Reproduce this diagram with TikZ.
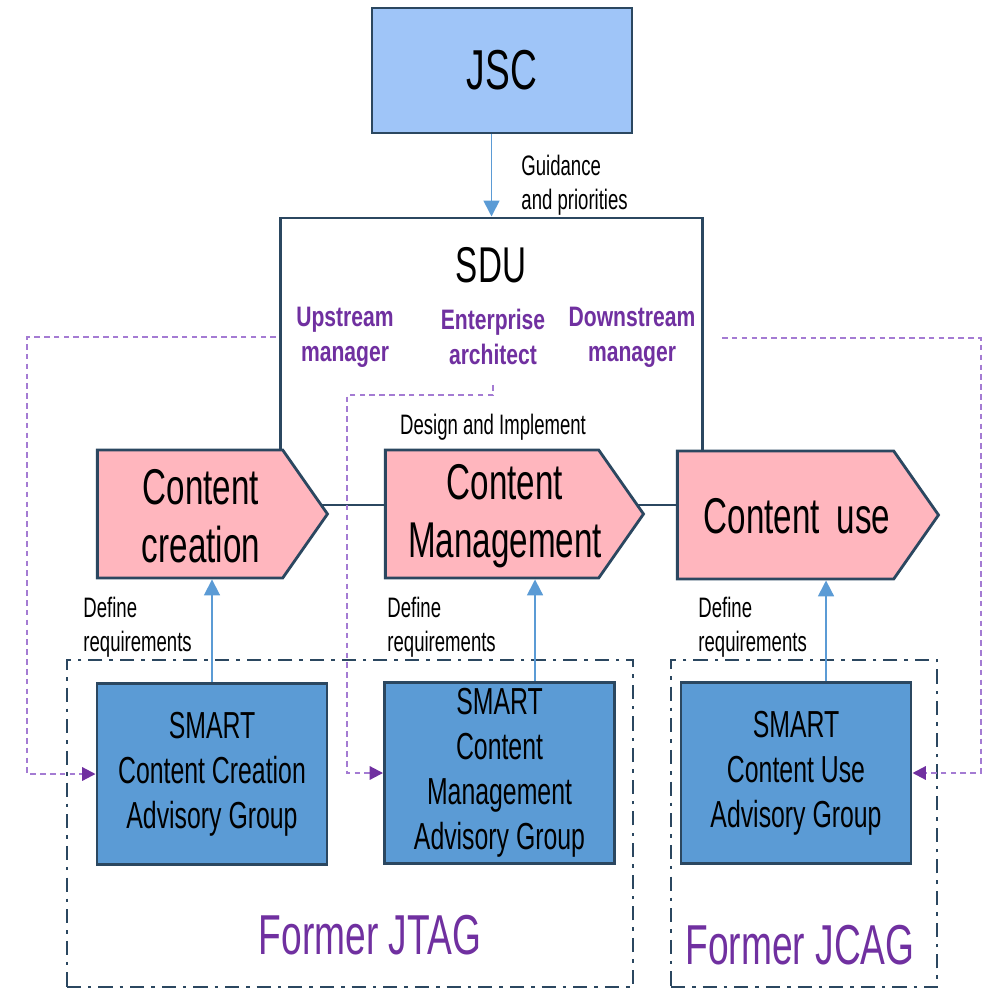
\documentclass[tikz,border=0pt]{standalone}
\usepackage{fontspec}
\setmainfont{Liberation Sans}[FakeStretch=0.66,BoldFeatures={FakeStretch=0.75}]
\usepackage{tikz}
\usetikzlibrary{shapes,arrows,arrows.meta,positioning}

\definecolor{edgeblue}{HTML}{2B4760}
\definecolor{jscblue}{HTML}{9FC5F8}
\definecolor{smartblue}{HTML}{5B9BD5}
\definecolor{arrowblue}{HTML}{5B9BD5}
\definecolor{chevpink}{HTML}{FFB6BE}
\definecolor{rolepurple}{HTML}{7030A0}
\definecolor{linkpurple}{HTML}{A47BD3}

\begin{document}
\begin{tikzpicture}[x=0.01cm,y=-0.01cm,
  topbox/.style={draw=edgeblue,line width=0.8pt,fill=jscblue,minimum width=2.6cm,minimum height=1.25cm,font=\fontsize{16pt}{19pt}\selectfont},
  sdubox/.style={draw=edgeblue,line width=0.8pt,fill=white,minimum width=4.21cm,minimum height=2.87cm},
  chev/.style={shape=signal,signal to=east,signal pointer angle=110,draw=edgeblue,line width=0.8pt,fill=chevpink,minimum height=1.28cm,inner sep=0pt},
  chevtext/.style={align=center,font=\fontsize{14.3pt}{16.5pt}\selectfont},
  smartbox/.style={draw=edgeblue,line width=0.8pt,fill=smartblue,minimum width=2.3cm,minimum height=1.81cm,align=center,font=\fontsize{10.7pt}{12.8pt}\selectfont},
  groupbox/.style={draw=edgeblue,line width=0.7pt,dash pattern=on 4pt off 2pt on 1pt off 2pt},
  role/.style={text=rolepurple,font=\bfseries\fontsize{8pt}{10pt}\selectfont,align=center},
  note/.style={font=\fontsize{8pt}{9.8pt}\selectfont,align=left},
  former/.style={text=rolepurple,font=\fontsize{16pt}{19pt}\selectfont},
  uparrow/.style={draw=arrowblue,line width=0.5pt,-{Triangle[length=4.5pt,width=4.5pt]}},
  link/.style={draw=linkpurple,line width=0.6pt,dash pattern=on 1.6pt off 1.2pt,-{Triangle[length=3.8pt,width=3.8pt,color=rolepurple]}}
]
\useasboundingbox (0,0) rectangle (987,989);

\node[sdubox] (sdu) at (491.5,361.5) {};
\node[topbox] (jsc) at (502,70.5) {JSC};
\node[font=\fontsize{14.3pt}{17pt}\selectfont] (sdutext) at (491,265) {SDU};

\node[role] (ups) at (345,337) {Upstream\\manager};
\node[role] (ent) at (493,337) {Enterprise\\architect};
\node[role] (dns) at (632,337) {Downstream\\manager};
\node[note] (design) at (493,427) {Design and Implement};
\node[note,anchor=west] (guide) at (509,185) {Guidance\\and priorities};

\node[groupbox,minimum width=5.66cm,minimum height=3.27cm] (jtag) at (350,823.5) {};
\node[groupbox,minimum width=2.66cm,minimum height=3.27cm] (jcag) at (804,823.5) {};

\node[chev,minimum width=2.3cm] (cc) at (190,514) {};
\node[chev,minimum width=2.58cm] (cm) at (492,514) {};
\node[chev,minimum width=2.61cm] (cu) at (785.5,515) {};
\node[chevtext] (cctext) at (201,516) {Content\\creation};
\node[chevtext] (cmtext) at (505,516) {Content\\Management};
\node[chevtext] (cutext) at (797,516) {Content\hspace{0.15em} use};

\node[smartbox] (sca) at (212,774) {SMART\\Content Creation\\Advisory Group};
\node[smartbox,inner ysep=1pt] (smg) at (499.5,773) {SMART\\Content\\Management\\Advisory Group};
\node[smartbox] (scu) at (796,773) {SMART\\Content Use\\Advisory Group};

\node[note,anchor=west] (def1) at (71,627) {Define\\requirements};
\node[note,anchor=west] (def2) at (375,627) {Define\\requirements};
\node[note,anchor=west] (def3) at (686,627) {Define\\requirements};

\node[former] (fjtag) at (370,935) {Former JTAG};
\node[former] (fjcag) at (800,945) {Former JCAG};

\draw[uparrow] (sdu.north |- jsc.south) -- (sdu.north);
\draw[uparrow] (sca.north) -- (sca.north |- cc.south);
\coordinate (up2) at ([xshift=0.355cm]smg.north);
\draw[uparrow] (up2) -- (up2 |- cm.south);
\coordinate (up3) at ([xshift=0.3cm]scu.north);
\draw[uparrow] (up3) -- (up3 |- cu.south);

\coordinate (upsl) at (276,337);
\coordinate (entb) at (493,385);
\coordinate (dnsr) at (722,338);
\draw[link] (upsl) -- (27,337) |- (sca.west);
\draw[link] (entb) |- (347,395) |- (smg.west);
\draw[link] (dnsr) -- (981,338) |- (scu.east);

\end{tikzpicture}
\end{document}
